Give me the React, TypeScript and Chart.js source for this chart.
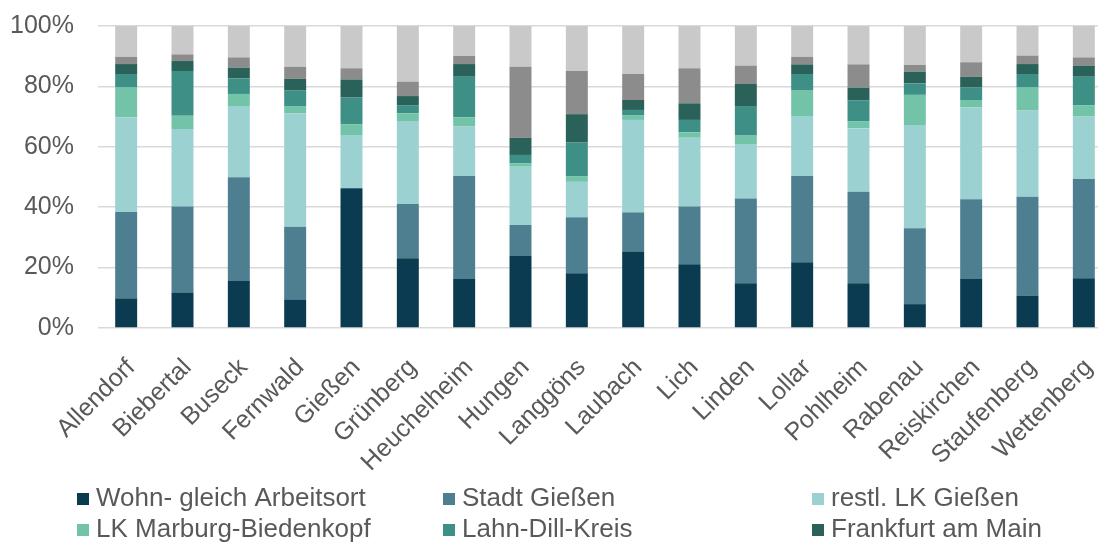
import React, { useEffect, useRef } from "react";
import { Chart, registerables } from "chart.js";

Chart.register(...registerables);

const categories = [
  "Allendorf", "Biebertal", "Buseck", "Fernwald", "Gießen", "Grünberg",
  "Heuchelheim", "Hungen", "Langgöns", "Laubach", "Lich", "Linden",
  "Lollar", "Pohlheim", "Rabenau", "Reiskirchen", "Staufenberg", "Wettenberg",
];

const seriesNames = [
  "Wohn- gleich Arbeitsort",
  "Stadt Gießen",
  "restl. LK Gießen",
  "LK Marburg-Biedenkopf",
  "Lahn-Dill-Kreis",
  "Frankfurt am Main",
  "Sonstige",
  "ohne Angabe",
];

const wohnGleichArbeitsort = [9.8, 11.8, 15.7, 9.3, 46.3, 23.1, 16.2, 23.9, 18.1, 25.3, 21.1, 14.8, 21.8, 14.8, 7.9, 16.2, 10.7, 16.5];
const stadtGiessen = [28.6, 28.4, 34.2, 24.2, 0, 18.0, 34.1, 10.2, 18.6, 13.0, 19.1, 28.1, 28.5, 30.3, 25.1, 26.4, 32.8, 32.8];
const restlLkGiessen = [31.4, 25.7, 23.6, 37.6, 17.6, 27.2, 16.4, 19.3, 11.7, 30.6, 22.8, 18.0, 19.9, 21.0, 34.2, 30.5, 28.5, 20.7];
const lkMarburgBiedenkopf = [9.8, 4.4, 4.0, 2.4, 3.5, 2.8, 3.1, 1.1, 1.9, 1.6, 1.8, 2.8, 8.4, 2.4, 10.0, 2.4, 7.6, 3.8];
const lahnDillKreis = [4.5, 14.8, 5.2, 5.1, 8.9, 2.7, 13.4, 2.8, 11.1, 1.7, 4.1, 9.8, 5.5, 6.8, 3.8, 4.1, 4.5, 9.4];
const frankfurtAmMain = [3.3, 3.3, 3.5, 3.9, 6.0, 3.0, 4.2, 5.7, 9.4, 3.3, 5.5, 7.3, 3.2, 4.3, 3.9, 3.6, 3.3, 3.7];
const sonstige = [2.4, 2.2, 3.4, 4.0, 3.7, 4.8, 2.7, 23.5, 14.3, 8.6, 11.6, 6.1, 2.5, 7.7, 2.2, 4.8, 2.8, 2.7];
const ohneAngabe = [10.2, 9.4, 10.4, 13.5, 14.0, 18.4, 9.9, 13.5, 14.9, 15.9, 14.0, 13.1, 10.2, 12.7, 12.9, 12.0, 9.8, 10.4];

const yTicks = [0, 20, 40, 60, 80, 100];

const seriesValues = [
  wohnGleichArbeitsort, stadtGiessen, restlLkGiessen, lkMarburgBiedenkopf,
  lahnDillKreis, frankfurtAmMain, sonstige, ohneAngabe,
];
const seriesColors = [
  "#0b3b50", "#4e7f90", "#9cd1d1", "#72c3a8",
  "#3e8f86", "#2a625a", "#8c8c8c", "#c9c9c9",
];
const legendCount = 6;

const FONT = "'Liberation Sans', Arial, Helvetica, sans-serif";
const TEXT = "#595959";

const gridLegend = {
  id: "gridLegend",
  afterDraw(chart: any) {
    const ctx = chart.ctx;
    const cols = [77, 443, 812];
    const rows = [506, 537];
    ctx.save();
    ctx.font = `26px ${FONT}`;
    ctx.textBaseline = "alphabetic";
    ctx.textAlign = "left";
    for (let i = 0; i < legendCount; i++) {
      const x = cols[i % 3];
      const y = rows[Math.floor(i / 3)];
      ctx.fillStyle = seriesColors[i];
      ctx.fillRect(x, y - 13, 12, 12);
      ctx.fillStyle = TEXT;
      ctx.fillText(seriesNames[i], x + 19, y);
    }
    ctx.restore();
  },
};

export default function App() {
  const ref = useRef<HTMLCanvasElement | null>(null);

  useEffect(() => {
    document.documentElement.style.overflow = "hidden";
    document.body.style.overflow = "hidden";
    Chart.defaults.font.family = FONT;
    const chart = new Chart(ref.current as HTMLCanvasElement, {
      type: "bar",
      data: {
        labels: categories,
        datasets: seriesValues.map((vals, i) => ({
          label: seriesNames[i],
          data: vals,
          backgroundColor: seriesColors[i],
          borderWidth: 0,
          categoryPercentage: 1,
          barPercentage: 0.39,
        })),
      },
      options: {
        animation: false,
        responsive: false,
        maintainAspectRatio: false,
        layout: { padding: { top: 26, left: 0, right: 8, bottom: 69 } },
        plugins: {
          legend: { display: false },
          tooltip: { enabled: false },
        },
        scales: {
          x: {
            stacked: true,
            grid: { display: false },
            border: { display: false },
            ticks: {
              autoSkip: false,
              minRotation: 45,
              maxRotation: 45,
              color: TEXT,
              font: { size: 25 },
              padding: 17,
              labelOffset: 5,
            },
            afterFit: (s: any) => {
              s.height = 150;
              s.paddingLeft = 0;
              s.paddingRight = 0;
            },
          },
          y: {
            stacked: true,
            min: 0,
            max: 100,
            afterBuildTicks: (s: any) => { s.ticks = yTicks.map((v) => ({ value: v })); },
            grid: { color: "#d9d9d9", lineWidth: 1.5, drawTicks: false },
            border: { display: false },
            ticks: {
              color: TEXT,
              font: { size: 25 },
              padding: 24,
              callback: (v: any) => `${v}%`,
            },
            afterFit: (s: any) => {
              s.width = 98;
              s.paddingTop = 0;
              s.paddingBottom = 0;
            },
          },
        },
      },
      plugins: [gridLegend],
    });
    return () => chart.destroy();
  }, []);

  return (
    <div style={{ position: "fixed", left: 0, top: 0, width: 1120, height: 547, background: "#fff" }}>
      <canvas ref={ref} width={1120} height={547} style={{ display: "block", width: 1120, height: 547 }} />
    </div>
  );
}
